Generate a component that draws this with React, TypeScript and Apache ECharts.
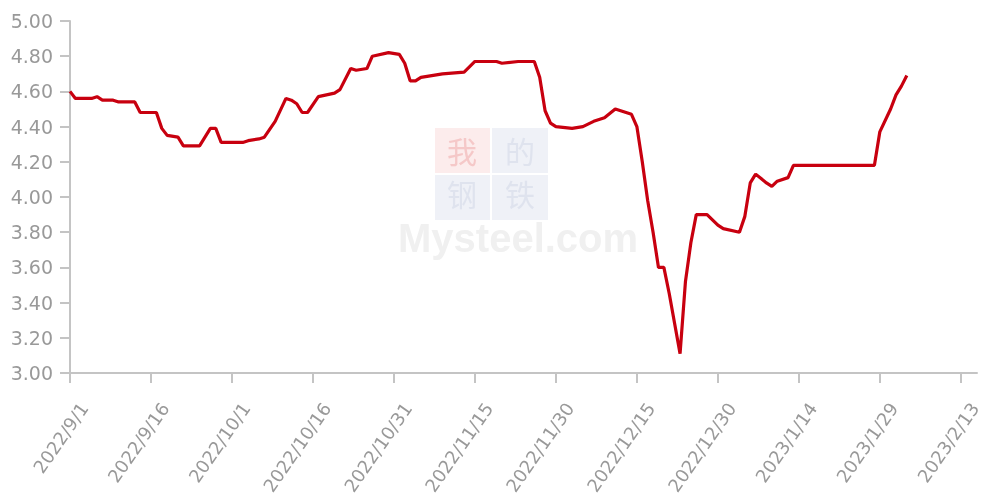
import React, { useEffect, useRef } from "react";
import * as echarts from "echarts";

const dates: string[] = [
  "2022/9/1", "2022/9/2", "2022/9/5", "2022/9/6", "2022/9/7", "2022/9/9", "2022/9/10", "2022/9/13",
  "2022/9/14", "2022/9/17", "2022/9/18", "2022/9/19", "2022/9/21", "2022/9/22", "2022/9/25", "2022/9/27",
  "2022/9/28", "2022/9/29", "2022/10/3", "2022/10/4", "2022/10/6", "2022/10/7", "2022/10/9", "2022/10/11",
  "2022/10/12", "2022/10/13", "2022/10/14", "2022/10/15", "2022/10/17", "2022/10/20", "2022/10/21", "2022/10/23",
  "2022/10/24", "2022/10/26", "2022/10/27", "2022/10/30", "2022/11/1", "2022/11/2", "2022/11/3", "2022/11/4",
  "2022/11/5", "2022/11/9", "2022/11/13", "2022/11/15", "2022/11/19", "2022/11/20", "2022/11/23", "2022/11/26",
  "2022/11/27", "2022/11/28", "2022/11/29", "2022/11/30", "2022/12/3", "2022/12/5", "2022/12/7", "2022/12/9",
  "2022/12/11", "2022/12/13", "2022/12/14", "2022/12/15", "2022/12/16", "2022/12/17", "2022/12/18", "2022/12/19",
  "2022/12/20", "2022/12/21", "2022/12/22", "2022/12/23", "2022/12/24", "2022/12/25", "2022/12/26", "2022/12/28",
  "2022/12/30", "2022/12/31", "2023/1/3", "2023/1/4", "2023/1/5", "2023/1/6", "2023/1/8", "2023/1/9",
  "2023/1/10", "2023/1/12", "2023/1/13", "2023/1/28", "2023/1/29", "2023/1/31", "2023/2/1", "2023/2/2",
  "2023/2/3",
];

const values: number[] = [
  4.60, 4.56, 4.56, 4.57, 4.55, 4.55, 4.54, 4.54,
  4.48, 4.48, 4.39, 4.35, 4.34, 4.29, 4.29, 4.39,
  4.39, 4.31, 4.31, 4.32, 4.33, 4.34, 4.43, 4.56,
  4.55, 4.53, 4.48, 4.48, 4.57, 4.59, 4.61, 4.73,
  4.72, 4.73, 4.80, 4.82, 4.81, 4.76, 4.66, 4.66,
  4.68, 4.70, 4.71, 4.77, 4.77, 4.76, 4.77, 4.77,
  4.68, 4.49, 4.42, 4.40, 4.39, 4.40, 4.43, 4.45,
  4.50, 4.48, 4.47, 4.40, 4.20, 3.98, 3.80, 3.60,
  3.60, 3.45, 3.28, 3.11, 3.52, 3.74, 3.90, 3.90,
  3.84, 3.82, 3.80, 3.89, 4.08, 4.13, 4.08, 4.06,
  4.09, 4.11, 4.18, 4.18, 4.37, 4.50, 4.58, 4.63,
  4.69,
];

const xTickLabels: string[] = [
  "2022/9/1", "2022/9/16", "2022/10/1", "2022/10/16", "2022/10/31", "2022/11/15",
  "2022/11/30", "2022/12/15", "2022/12/30", "2023/1/14", "2023/1/29", "2023/2/13",
];

const startDate = "2022/9/1";
const endDate = "2023/2/16";
const dayStep = 15;

function dayOffset(s: string): number {
  const [y, m, d] = s.split("/").map(Number);
  const [y0, m0, d0] = startDate.split("/").map(Number);
  return Math.round((Date.UTC(y, m - 1, d) - Date.UTC(y0, m0 - 1, d0)) / 86400000);
}

export default function App() {
  const ref = useRef<HTMLDivElement>(null);

  useEffect(() => {
    if (!ref.current) return;
    document.documentElement.style.overflow = "hidden";
    document.body.style.margin = "0";
    const chart = echarts.init(ref.current, null, { renderer: "svg" });
    const seriesData = dates.map((d, i) => [dayOffset(d), values[i]]);
    const tickValues = xTickLabels.map((l) => dayOffset(l));
    const axisColor = "#c4c4c4";
    const labelColor = "#999999";
    const cjkFont = "30px 'Noto Sans CJK SC'";

    chart.setOption({
      animation: false,
      grid: { left: 70, right: 5, top: 21, bottom: 128, containLabel: false, outerBoundsMode: "none" },
      graphic: [
        { type: "rect", silent: true, z: -1, shape: { x: 435, y: 128, width: 55, height: 45 }, style: { fill: "#fcecec" } },
        { type: "rect", silent: true, z: -1, shape: { x: 492, y: 128, width: 56, height: 45 }, style: { fill: "#eff1f7" } },
        { type: "rect", silent: true, z: -1, shape: { x: 435, y: 175, width: 55, height: 45 }, style: { fill: "#eff1f7" } },
        { type: "rect", silent: true, z: -1, shape: { x: 492, y: 175, width: 56, height: 45 }, style: { fill: "#eff1f7" } },
        { type: "text", silent: true, z: -1, x: 462, y: 150, style: { text: "我", fill: "#f5c8c8", font: cjkFont, align: "center", verticalAlign: "middle" } },
        { type: "text", silent: true, z: -1, x: 520, y: 150, style: { text: "的", fill: "#dfe3ee", font: cjkFont, align: "center", verticalAlign: "middle" } },
        { type: "text", silent: true, z: -1, x: 462, y: 193, style: { text: "钢", fill: "#dfe3ee", font: cjkFont, align: "center", verticalAlign: "middle" } },
        { type: "text", silent: true, z: -1, x: 520, y: 193, style: { text: "铁", fill: "#dfe3ee", font: cjkFont, align: "center", verticalAlign: "middle" } },
        { type: "text", silent: true, z: -1, x: 398, y: 258, style: { text: "Mysteel.com", fill: "#f0f0f0", font: "bold 40px 'Liberation Sans'", align: "left", verticalAlign: "bottom" } },
      ],
      xAxis: {
        type: "value",
        min: 0,
        max: dayOffset(endDate),
        splitLine: { show: false },
        axisLine: { show: true, onZero: false, lineStyle: { color: axisColor, width: 2 } },
        axisTick: { show: true, length: 10, customValues: tickValues, lineStyle: { color: axisColor, width: 2 } },
        axisLabel: {
          customValues: tickValues,
          rotate: 55,
          margin: 22,
          verticalAlign: "top",
          lineHeight: 34,
          color: labelColor,
          fontFamily: "DejaVu Sans",
          fontSize: 18,
          formatter: (v: number) => xTickLabels[Math.round(v / dayStep)] ?? "",
        },
      },
      yAxis: {
        type: "value",
        min: 3,
        max: 5,
        interval: 0.2,
        splitLine: { show: false },
        axisLine: { show: true, lineStyle: { color: axisColor, width: 2 } },
        axisTick: { show: true, length: 10, lineStyle: { color: axisColor, width: 2 } },
        axisLabel: {
          margin: 17,
          color: labelColor,
          fontFamily: "DejaVu Sans",
          fontSize: 19,
          formatter: (v: number) => v.toFixed(2),
        },
      },
      series: [
        {
          type: "line",
          data: seriesData,
          showSymbol: false,
          symbol: "none",
          lineStyle: { color: "#c8000f", width: 3.2 },
          itemStyle: { color: "#c8000f" },
        },
      ],
    });

    return () => chart.dispose();
  }, []);

  return <div ref={ref} style={{ width: 982, height: 501, position: "fixed", left: 0, top: 0 }} />;
}
